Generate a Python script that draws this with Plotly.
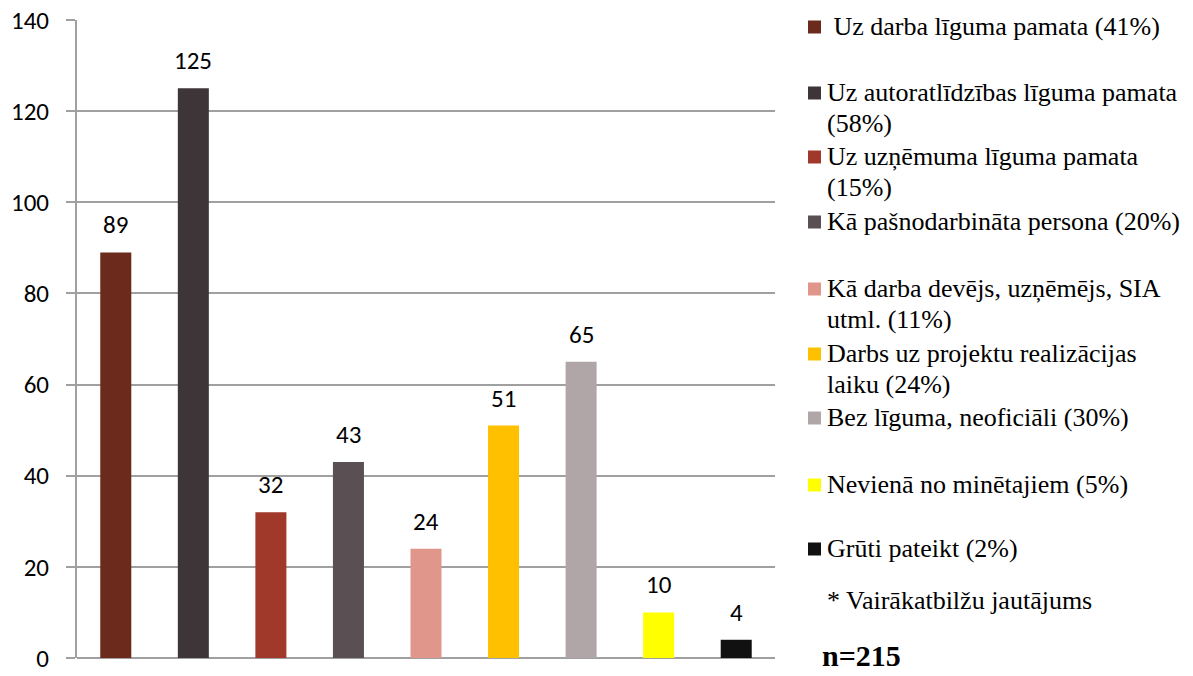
import plotly.graph_objects as go

categories = [
    " Uz darba līguma pamata (41%)",
    "Uz autoratlīdzības līguma pamata (58%)",
    "Uz uzņēmuma līguma pamata (15%)",
    "Kā pašnodarbināta persona (20%)",
    "Kā darba devējs, uzņēmējs, SIA utml. (11%)",
    "Darbs uz projektu realizācijas laiku (24%)",
    "Bez līguma, neoficiāli (30%)",
    "Nevienā no minētajiem (5%)",
    "Grūti pateikt (2%)",
]
legend_lines = [
    [" Uz darba līguma pamata (41%)"],
    ["Uz autoratlīdzības līguma pamata", "(58%)"],
    ["Uz uzņēmuma līguma pamata", "(15%)"],
    ["Kā pašnodarbināta persona (20%)"],
    ["Kā darba devējs, uzņēmējs, SIA", "utml. (11%)"],
    ["Darbs uz projektu realizācijas", "laiku (24%)"],
    ["Bez līguma, neoficiāli (30%)"],
    ["Nevienā no minētajiem (5%)"],
    ["Grūti pateikt (2%)"],
]
values = [89, 125, 32, 43, 24, 51, 65, 10, 4]
colors = ["#6B2A1C", "#3D3537", "#A0392A", "#5A5053", "#E0968B",
          "#FFC000", "#B0A6A8", "#FFFF00", "#111111"]
y_ticks = [0, 20, 40, 60, 80, 100, 120, 140]
note_text = "* Vairākatbilžu jautājums"
n_text = "n=215"

W, H = 1193, 676
L, R, T, B = 77, 775, 20, 658

def px(x):
    return (x - L) / (R - L)

def py(y):
    return (B - y) / (B - T)

sans = "Carlito"
serif = "Liberation Serif"

fig = go.Figure()
fig.add_trace(go.Bar(
    x=categories, y=values, marker=dict(color=colors, line=dict(width=0)),
    width=0.4, showlegend=False, hoverinfo="x+y",
))

annotations = []
for c, v in zip(categories, values):
    annotations.append(dict(
        x=c, y=v, xref="x", yref="y", text=str(v), showarrow=False,
        yanchor="bottom", yshift=10,
        font=dict(family=sans, size=25, color="#000000"),
    ))

legend_y0 = [26, 92, 156, 221, 288, 353, 417, 484, 548]
line_h = 31.5
shapes = []
for lines, yc, col in zip(legend_lines, legend_y0, colors):
    shapes.append(dict(
        type="rect", xref="paper", yref="paper",
        x0=px(808), x1=px(821), y0=py(yc + 7.5), y1=py(yc - 5.5),
        fillcolor=col, line=dict(width=0),
    ))
    for i, ln in enumerate(lines):
        annotations.append(dict(
            x=px(825), y=py(yc + i * line_h), xref="paper", yref="paper",
            xanchor="left", yanchor="middle", text=ln, showarrow=False,
            font=dict(family=serif, size=26, color="#000000"),
        ))

annotations.append(dict(
    x=px(825), y=py(600), xref="paper", yref="paper", xanchor="left",
    yanchor="middle", text=note_text, showarrow=False,
    font=dict(family=serif, size=26, color="#000000"),
))
annotations.append(dict(
    x=px(820), y=py(655), xref="paper", yref="paper", xanchor="left",
    yanchor="middle", text="<b>" + n_text + "</b>", showarrow=False,
    font=dict(family=serif, size=30, color="#000000"),
))

fig.update_layout(
    width=W, height=H,
    margin=dict(l=L, r=W - R, t=T, b=H - B, pad=0, autoexpand=False),
    plot_bgcolor="#FFFFFF", paper_bgcolor="#FFFFFF",
    annotations=annotations, shapes=shapes,
    xaxis=dict(showticklabels=False, showgrid=False, zeroline=False,
               showline=False, ticks="", range=[-0.5, 8.5], fixedrange=True,
               automargin=False),
    yaxis=dict(range=[0, 140], tickvals=y_ticks, showgrid=True,
               gridcolor="#A0A0A0", gridwidth=2, zeroline=True,
               zerolinecolor="#A0A0A0", zerolinewidth=2,
               showline=True, linecolor="#A0A0A0", linewidth=2,
               ticks="outside", ticklen=9, tickcolor="#A0A0A0", tickwidth=2,
               tickfont=dict(family=sans, size=25, color="#000000"),
               ticklabelstandoff=12, ticklabeloverflow="allow",
               automargin=False),
    bargap=0.6,
)

fig.write_html("out.html",
               config={"displayModeBar": False},
               post_script="document.body.style.margin='0';document.body.style.overflow='hidden';")
